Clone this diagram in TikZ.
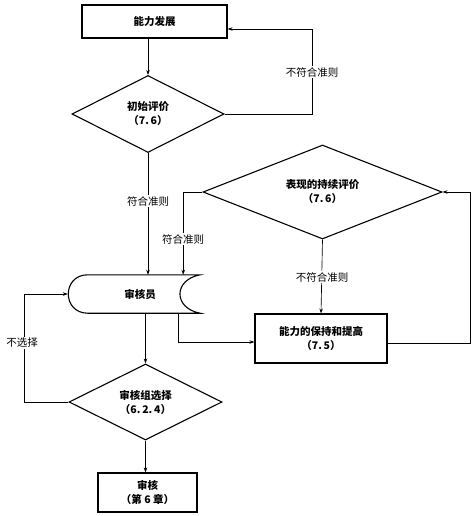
\documentclass[tikz,border=0pt]{standalone}
\usepackage{fontspec}
\newfontfamily\cjk{Noto Sans CJK SC}
\usetikzlibrary{shapes.geometric,arrows.meta,calc}
\begin{document}
\begin{tikzpicture}[x=1pt,y=-1pt,
  font=\cjk\fontsize{10.5}{12.5}\selectfont,
  shp/.style={draw, line width=1.1pt, align=center, inner sep=0pt, font=\cjk\bfseries\fontsize{10.5}{14}\selectfont},
  boxn/.style={shp, rectangle},
  dia/.style={shp, diamond, aspect=2},
  conn/.style={line width=0.65pt, -{Stealth[length=5pt,width=3.5pt]}},
  lbl/.style={fill=white, inner sep=1.5pt}]
\useasboundingbox (0,0) rectangle (475,516);
% nodes
\node[boxn, minimum width=145, minimum height=33] (dev) at (154.5,21.5) {能力发展};
\node[dia, minimum width=152, minimum height=77] (d1) at (148,114) {初始评价\\（7.\,6）};
\node[dia, minimum width=239, minimum height=94] (d2) at (322.5,192) {表现的持续评价\\（7.\,6）};
\node[draw=none, minimum width=132, minimum height=38, inner sep=0pt, font=\cjk\bfseries\fontsize{10.5}{14}\selectfont] (aud) at (134,294) {\hspace*{12pt}审核员};
\draw[line width=1.1pt] ($(aud.north west)+(20,0)$) -- (aud.north east)
  .. controls ($(aud.north east)+(-27,5)$) and ($(aud.south east)+(-27,-5)$) .. (aud.south east)
  -- ($(aud.south west)+(20,0)$)
  .. controls ($(aud.south west)+(-6,0)$) and ($(aud.north west)+(-6,0)$) .. cycle;
\node[boxn, minimum width=132, minimum height=49] (keep) at (321,338.5) {能力的保持和提高\\（7.\,5）};
\node[dia, minimum width=153, minimum height=76] (d3) at (145.5,402) {审核组选择\\（6.\,2.\,4）};
\node[boxn, minimum width=99, minimum height=39] (audit) at (147.5,492.5) {审核\\（第 6 章）};
% connectors
\draw[conn] (dev.south -| d1.north) -- (d1.north);
\coordinate (c1) at (312,29);
\draw[conn] (d1.east) -| (c1) -- (c1 -| dev.east);
\node[lbl] at (312,72) {不符合准则};
\draw[conn] (d1.south) -- (d1.south |- aud.north);
\node[lbl] at (148,201) {符合准则};
\coordinate (c2) at ($(aud.north east)+(-17,0)$);
\draw[conn] (d2.west) -| (c2);
\node[lbl] at (183,239) {符合准则};
\draw[conn] (d2.south) -- (keep.north);
\node[lbl] at (322,277) {不符合准则};
\coordinate (c3) at ($(aud.south east)+(-22,0)$);
\draw[conn] (c3) |- ([yshift=-3.5pt]keep.west);
\coordinate (c4) at (470,192);
\draw[conn] ([yshift=-5pt]keep.east) -| (c4) -- (d2.east);
\draw[conn] (d3.north |- aud.south) -- (d3.north);
\coordinate (c5) at (24,402);
\draw[conn] (d3.west) -- (c5) |- (aud.west);
\node[lbl] at (22,343) {不选择};
\draw[conn] (d3.south) -- (d3.south |- audit.north);
\end{tikzpicture}
\end{document}
